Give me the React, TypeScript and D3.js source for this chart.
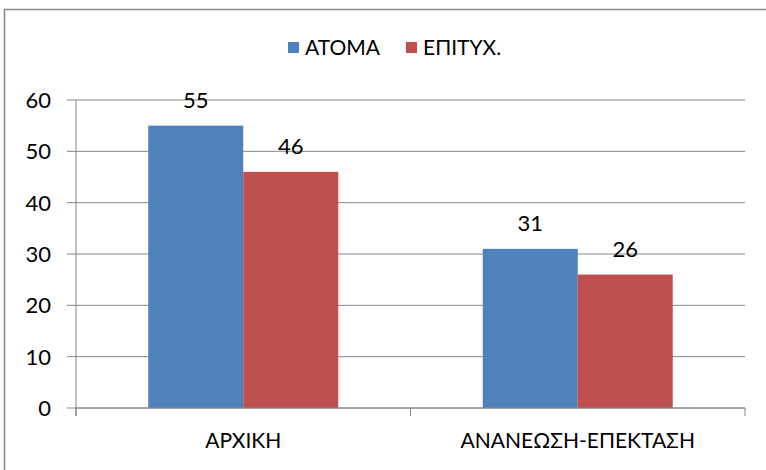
import React from 'react';
import * as d3 from 'd3';

const categories = ['ΑΡΧΙΚΗ', 'ΑΝΑΝΕΩΣΗ-ΕΠΕΚΤΑΣΗ'];
const seriesNames = ['ΑΤΟΜΑ', 'ΕΠΙΤΥΧ.'];
const atoma = [55, 31];
const epitux = [46, 26];
const yTicks = [0, 10, 20, 30, 40, 50, 60];
const colors = ['#4F81BD', '#C0504D'];

const W = 766;
const H = 470;
const margin = { top: 100, right: 21, bottom: 62, left: 76 };
const font = 'Lato, "Open Sans", sans-serif';

const App = () => {
  const values = [atoma, epitux];

  const x = d3.scaleBand()
    .domain(categories)
    .range([margin.left, W - margin.right])
    .paddingInner(0)
    .paddingOuter(0);

  const y = d3.scaleLinear()
    .domain([0, 60])
    .range([H - margin.bottom, margin.top]);

  const groupPad = 0.216;
  const inner = d3.scaleBand()
    .domain(seriesNames)
    .range([x.bandwidth() * groupPad, x.bandwidth() * (1 - groupPad)]);

  const grid = '#868686';
  const xEnds = [margin.left, ...categories.map(c => (x(c) as number) + x.bandwidth())];

  return (
    <svg width={W} height={H} style={{ position: 'absolute', left: 0, top: 0 }}>
      <rect x={0} y={0} width={W} height={H} fill="#fff" />
      <rect x={4.5} y={9.5} width={W + 10} height={H + 10} fill="none" stroke={grid} strokeWidth={1.5} />

      {/* legend */}
      {seriesNames.map((s, i) => {
        const lx = [288, 406][i];
        return (
          <g key={s}>
            <rect x={lx} y={42} width={11} height={11} fill={colors[i]} />
            <text x={lx + 17} y={55} fontFamily={font} fontSize={21} fill="#000">{s}</text>
          </g>
        );
      })}

      {/* gridlines and y ticks */}
      {yTicks.map(t => (
        <g key={t}>
          <line x1={67} x2={W - margin.right} y1={y(t)} y2={y(t)} stroke={grid} strokeWidth={1} />
          <text x={51} y={y(t) + 8} textAnchor="end" fontFamily={font} fontSize={22} fill="#000">{t}</text>
        </g>
      ))}

      {/* bars */}
      {categories.map((c, ci) => (
        <g key={c} transform={`translate(${x(c)},0)`}>
          {seriesNames.map((s, si) => {
            const v = values[si][ci];
            const bx = inner(s) as number;
            return (
              <g key={s}>
                <rect x={bx} y={y(v)} width={inner.bandwidth()} height={y(0) - y(v)} fill={colors[si]} />
                <text x={bx + inner.bandwidth() / 2} y={y(v) - 18} textAnchor="middle"
                  fontFamily={font} fontSize={22} fill="#000">{v}</text>
              </g>
            );
          })}
        </g>
      ))}

      {/* axes */}
      <line x1={margin.left} x2={margin.left} y1={y(60)} y2={y(0) + 8} stroke={grid} strokeWidth={1} />
      <line x1={margin.left} x2={W - margin.right} y1={y(0)} y2={y(0)} stroke={grid} strokeWidth={1} />
      {xEnds.map((xe, i) => (
        <line key={i} x1={xe} x2={xe} y1={y(0)} y2={y(0) + 8} stroke={grid} strokeWidth={1} />
      ))}

      {categories.map(c => (
        <text key={c} x={(x(c) as number) + x.bandwidth() / 2} y={448} textAnchor="middle"
          fontFamily={font} fontSize={21} fill="#000">{c}</text>
      ))}
    </svg>
  );
};

export default App;
